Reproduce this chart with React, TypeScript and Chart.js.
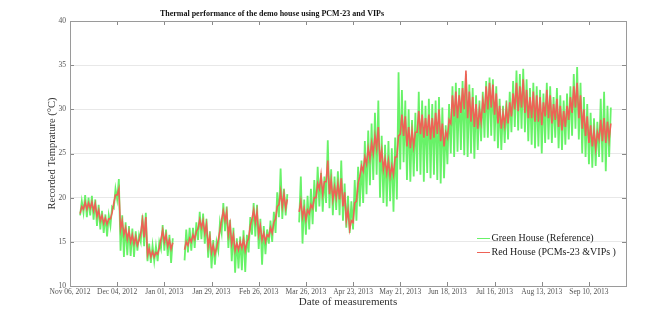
import React, { useEffect, useRef } from "react";
import { Chart, registerables } from "chart.js";

Chart.register(...registerables);

const chartTitle = "Thermal performance of the demo house using PCM-23 and VIPs";
const xTitle = "Date of measurements";
const yTitle = "Recorded Temprature (°C)";
const seriesNames = ["Green House (Reference)", "Red House (PCMs-23 &VIPs )"];

const tickLabels = [
  "Nov 06, 2012", "Dec 04, 2012", "Jan 01, 2013", "Jan 29, 2013", "Feb 26, 2013", "Mar 26, 2013",
  "Apr 23, 2013", "May 21, 2013", "Jun 18, 2013", "Jul 16, 2013", "Aug 13, 2013", "Sep 10, 2013",
];
// days after Nov 06, 2012
const tickDays = [0, 28, 56, 84, 112, 140, 168, 196, 224, 252, 280, 308];
const xMaxDay = 330;

// one sample every 2 days starting at day 6: low (night) then high (day) reading
const firstSampleDay = 6;
const sampleStep = 2;

const greenHigh = [
  19.6, 20.3, 20.0, 20.2, 19.8, 19.2, 18.5, 18.1, 18.0, 19.0,
  21.0, 22.1, 18.0, 17.2, 16.8, 16.5, 16.2, 15.8, 18.0, 18.3,
  14.8, 14.6, 14.5, 15.0, 16.9, 16.4, 15.8, 15.4, null, null,
  null, 16.4, 16.6, 16.6, 17.2, 18.4, 18.2, 17.6, 16.2, 15.2,
  15.0, 17.2, 19.4, 19.0, 17.5, 16.6, 15.4, 15.6, 16.3, 15.8,
  17.8, 19.4, 19.2, 17.6, 16.8, 16.4, 17.4, 18.4, 20.6, 23.3,
  21.0, 20.4, null, null, null, 22.4, 19.8, 20.2, 21.0, 22.0,
  23.5, 22.8, 22.4, 26.5, 23.2, 22.4, 23.0, 24.2, 21.6, 20.2,
  19.6, 22.0, 23.5, 24.2, 26.4, 27.6, 28.4, 29.6, 31.0, 27.0,
  26.0, 26.4, 25.6, 26.8, 34.2, 32.2, 31.0, 30.0, 28.8, 29.6,
  32.0, 31.0, 30.4, 31.2, 30.6, 31.0, 31.4, 30.2, 28.2, 30.6,
  32.6, 33.0, 32.4, 33.2, 34.0, 32.8, 32.4, 31.6, 31.0, 32.0,
  33.2, 33.6, 33.4, 32.6, 31.2, 30.4, 31.0, 32.0, 33.2, 34.4,
  34.0, 34.6, 33.4, 32.4, 33.0, 32.6, 32.2, 31.8, 33.0, 32.6,
  31.4, 32.4, 31.6, 31.0, 31.8, 32.6, 34.0, 34.8, 33.0, 31.4,
  30.6, 29.6, 29.0, 28.6, 31.2, 32.0, 30.4, 30.2,
];

const greenLow = [
  18.0, 18.3, 17.8, 18.0, 17.5, 16.8, 16.4, 16.0, 15.6, 16.8,
  18.8, 19.8, 14.0, 13.3, 13.5, 13.4, 13.3, 14.0, 15.0, 14.5,
  12.8, 12.6, 12.8, 12.8, 14.2, 14.0, 13.4, 12.6, null, null,
  null, 12.9, 13.8, 14.0, 14.3, 15.2, 15.3, 14.8, 13.2, 12.0,
  12.4, 14.0, 16.0, 16.2, 14.3, 12.8, 11.5, 12.0, 11.8, 11.6,
  13.8, 15.8, 15.6, 14.2, 12.4, 13.6, 14.8, 15.0, 16.0, 17.8,
  17.6, 18.0, null, null, null, 17.2, 14.8, 15.8, 16.4, 17.0,
  18.4, 19.0, 18.4, 19.4, 18.8, 18.0, 18.6, 18.0, 17.4, 16.6,
  16.0, 16.4, 17.4, 19.0, 19.4, 20.4, 21.4, 22.0, 22.6, 20.0,
  19.4, 19.0, 19.6, 18.4, 19.8, 23.2, 24.0, 22.0, 21.8, 22.4,
  23.0, 22.6, 21.8, 22.8, 22.2, 22.6, 22.0, 21.6, 22.2, 23.8,
  25.0, 24.6, 25.2, 25.4, 24.8, 24.6, 25.0, 24.4, 25.4, 26.4,
  26.8, 26.8, 27.0, 26.4, 25.6, 25.4, 26.2, 26.6, 27.4, 28.0,
  27.6, 27.8, 27.4, 26.4, 26.0, 25.6, 25.8, 25.0, 26.2, 26.6,
  26.2, 26.8, 25.6, 25.4, 26.0, 26.6, 27.0, 27.8, 26.6, 25.0,
  24.6, 23.8, 23.4, 23.6, 24.6, 24.0, 23.0, 24.6,
];

const redHigh = [
  19.0, 19.5, 19.4, 19.5, 19.3, 18.6, 18.0, 17.7, 17.6, 18.3,
  20.3, 21.0, 17.4, 16.6, 16.2, 15.8, 15.6, 15.2, 17.5, 17.8,
  14.2, 13.9, 13.8, 14.3, 16.3, 15.8, 15.2, 14.9, null, null,
  null, 15.0, 15.4, 15.8, 16.2, 17.5, 17.4, 17.0, 15.6, 14.6,
  14.3, 16.3, 18.5, 18.4, 17.0, 15.8, 14.8, 15.0, 15.3, 14.9,
  16.8, 18.6, 18.4, 16.8, 16.0, 15.8, 16.6, 17.2, 19.0, 20.7,
  20.4, 19.8, null, null, null, 19.6, 18.8, 18.6, 19.2, 20.0,
  21.6, 22.6, 21.8, 24.2, 22.0, 21.2, 21.6, 22.2, 20.6, 18.6,
  17.4, 19.4, 21.6, 23.6, 24.6, 25.6, 26.2, 27.0, 28.0, 25.4,
  24.4, 24.2, 23.6, 24.6, 27.0, 29.4, 29.2, 28.0, 27.6, 27.4,
  29.8, 29.4, 29.0, 29.4, 29.0, 29.6, 30.0, 28.4, 27.4, 28.8,
  31.6, 32.0, 31.6, 32.4, 34.4, 32.0, 31.4, 30.6, 30.0, 31.0,
  32.6, 33.0, 32.8, 31.8, 30.4, 29.6, 30.2, 30.8, 31.8, 33.0,
  32.6, 33.4, 32.2, 31.4, 32.0, 31.6, 31.4, 30.8, 32.2, 31.6,
  30.6, 31.2, 30.4, 29.8, 30.4, 31.4, 32.6, 33.0, 31.6, 30.0,
  29.2, 28.2, 27.6, 27.4, 28.8, 29.0, 28.6, 28.4,
];

const redLow = [
  18.2, 18.7, 18.7, 18.8, 18.5, 17.9, 17.4, 17.1, 17.0, 17.6,
  19.4, 20.3, 16.4, 15.8, 15.3, 15.0, 14.8, 14.6, 16.0, 15.5,
  13.5, 13.3, 13.3, 13.6, 15.3, 15.0, 14.5, 14.2, null, null,
  null, 14.1, 14.6, 15.0, 15.3, 16.5, 16.6, 16.0, 14.5, 13.8,
  13.6, 15.2, 17.5, 17.4, 15.8, 14.8, 14.0, 14.1, 14.3, 14.0,
  15.4, 17.6, 17.2, 15.8, 15.2, 15.0, 15.6, 16.0, 17.6, 19.2,
  19.0, 18.8, null, null, null, 18.4, 17.8, 17.5, 18.2, 18.8,
  20.0, 21.0, 20.4, 21.8, 20.4, 19.8, 20.0, 19.8, 19.0, 17.4,
  16.4, 17.2, 19.6, 22.4, 23.0, 23.8, 24.4, 25.0, 25.6, 24.0,
  23.2, 22.8, 22.4, 22.6, 24.6, 27.2, 27.0, 25.8, 25.6, 25.8,
  27.4, 27.2, 26.8, 27.0, 26.6, 26.8, 27.2, 26.4, 25.8, 26.8,
  28.4, 29.2, 29.0, 29.6, 30.0, 29.0, 28.6, 28.0, 27.8, 28.6,
  29.6, 30.0, 30.2, 29.4, 28.4, 27.8, 28.2, 28.4, 29.2, 30.0,
  29.8, 30.2, 29.6, 29.0, 29.0, 28.6, 28.6, 28.2, 29.2, 29.0,
  28.4, 28.8, 28.0, 27.6, 28.0, 28.8, 29.6, 30.2, 29.0, 27.8,
  27.0, 26.2, 25.8, 25.6, 26.6, 26.4, 26.2, 26.6,
];

const greenColor = "rgb(104,242,104)";
const redColor = "rgb(238,98,86)";
const serif = '"Liberation Serif", "DejaVu Serif", serif';

function toPoints(lows: (number | null)[], highs: (number | null)[]) {
  const pts: { x: number; y: number | null }[] = [];
  lows.forEach((lo, i) => {
    const d = firstSampleDay + i * sampleStep;
    pts.push({ x: d, y: lo });
    pts.push({ x: d + 1, y: highs[i] });
  });
  return pts;
}

const decorPlugin = {
  id: "decor",
  afterDraw(chart: any) {
    const { ctx, chartArea: a, scales } = chart;
    const x = scales.x;
    const y = scales.y;
    ctx.save();
    ctx.strokeStyle = "#8a8a8a";
    ctx.lineWidth = 1;
    ctx.beginPath();
    x.ticks.forEach((t: any) => {
      const px = Math.round(x.getPixelForValue(t.value)) + 0.5;
      ctx.moveTo(px, a.bottom);
      ctx.lineTo(px, a.bottom - 4);
      ctx.moveTo(px, a.top);
      ctx.lineTo(px, a.top + 4);
    });
    y.ticks.forEach((t: any) => {
      const py = Math.round(y.getPixelForValue(t.value)) + 0.5;
      ctx.moveTo(a.left, py);
      ctx.lineTo(a.left + 4, py);
      ctx.moveTo(a.right, py);
      ctx.lineTo(a.right - 4, py);
    });
    ctx.stroke();
    ctx.strokeStyle = "#9a9a9a";
    ctx.strokeRect(Math.round(a.left) + 0.5, Math.round(a.top) + 0.5, Math.round(a.right - a.left), Math.round(a.bottom - a.top));

    ctx.fillStyle = "#111";
    ctx.font = `bold 8px ${serif}`;
    ctx.textAlign = "center";
    ctx.textBaseline = "middle";
    ctx.fillText(chartTitle, 272, 14);

    ctx.fillStyle = "#333";
    ctx.font = `11px ${serif}`;
    ctx.fillText(xTitle, (a.left + a.right) / 2, 302);

    ctx.save();
    ctx.translate(52.5, (a.top + a.bottom) / 2);
    ctx.rotate(-Math.PI / 2);
    ctx.font = `10.5px ${serif}`;
    ctx.fillText(yTitle, 0, 0);
    ctx.restore();

    const ds = chart.data.datasets;
    [0, 1].forEach((k, i) => {
      const ly = 238.5 + i * 14;
      ctx.strokeStyle = ds[k].borderColor;
      ctx.lineWidth = 1;
      ctx.beginPath();
      ctx.moveTo(477, ly);
      ctx.lineTo(490, ly);
      ctx.stroke();
      ctx.fillStyle = "#222";
      ctx.font = `10px ${serif}`;
      ctx.textAlign = "left";
      ctx.textBaseline = "middle";
      ctx.fillText(ds[k].label, 491.5, ly);
    });
    ctx.restore();
  },
};

export default function App() {
  const canvasRef = useRef<HTMLCanvasElement | null>(null);

  useEffect(() => {
    if (!canvasRef.current) return;
    const chart = new Chart(canvasRef.current, {
      type: "line",
      data: {
        datasets: [
          {
            label: seriesNames[0],
            data: toPoints(greenLow, greenHigh),
            borderColor: greenColor,
            borderWidth: 1.8,
            pointRadius: 0,
            tension: 0,
            spanGaps: false,
            order: 1,
          },
          {
            label: seriesNames[1],
            data: toPoints(redLow, redHigh),
            borderColor: redColor,
            borderWidth: 1.6,
            pointRadius: 0,
            tension: 0,
            spanGaps: false,
            order: 0,
          },
        ],
      },
      options: {
        responsive: false,
        animation: false,
        layout: { padding: { top: 21, right: 41, bottom: 0, left: 0 } },
        plugins: {
          legend: { display: false },
          title: { display: false },
          tooltip: { enabled: false },
        },
        scales: {
          x: {
            type: "linear",
            min: 0,
            max: xMaxDay,
            afterBuildTicks: (s: any) => {
              s.ticks = tickDays.map((v) => ({ value: v }));
            },
            afterFit: (s: any) => {
              s.height = 28;
            },
            grid: { display: false, drawTicks: false },
            border: { display: false },
            ticks: {
              autoSkip: false,
              maxRotation: 0,
              padding: 2,
              color: "#555",
              font: { family: serif, size: 7.5 },
              callback: (_v: any, i: number) => tickLabels[i],
            },
          },
          y: {
            min: 10,
            max: 40,
            afterFit: (s: any) => {
              s.width = 70;
            },
            grid: { color: "#e8e8e8", drawTicks: false },
            border: { display: false },
            ticks: {
              stepSize: 5,
              padding: 4,
              color: "#555",
              font: { family: serif, size: 7.5 },
            },
          },
        },
      },
      plugins: [decorPlugin],
    } as any);
    return () => chart.destroy();
  }, []);

  return (
    <div style={{ position: "absolute", left: 0, top: 0, width: 667, height: 314, background: "#fff" }}>
      <canvas ref={canvasRef} width={667} height={314} style={{ width: 667, height: 314 }} />
    </div>
  );
}
